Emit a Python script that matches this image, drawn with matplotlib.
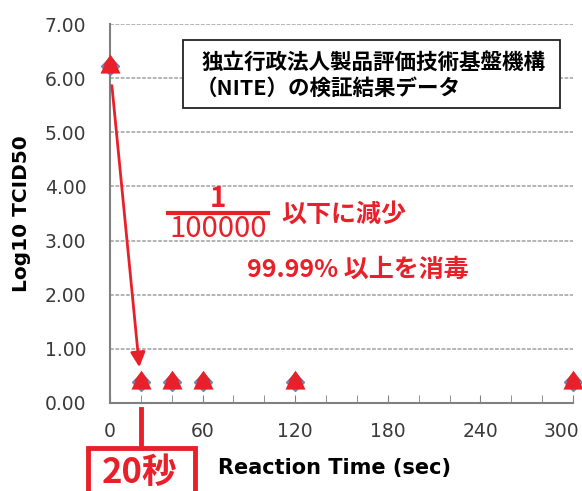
import matplotlib
matplotlib.use("Agg")
import matplotlib.pyplot as plt
import matplotlib.transforms as mtransforms
from matplotlib.patches import Rectangle
from matplotlib.lines import Line2D
from matplotlib.path import Path

# data
times = [0, 20, 40, 60, 120, 300]
log_tcid50 = [6.22, 0.38, 0.38, 0.38, 0.38, 0.38]
x_ticks = [0, 60, 120, 180, 240, 300]
y_ticks = [0, 1, 2, 3, 4, 5, 6, 7]

RED = '#e8202a'
W, H = 582, 491
CJK = ['Noto Sans CJK JP', 'DejaVu Sans']


def fx(px):
    return px / W


def fy(py):
    return 1 - py / H


fig = plt.figure(figsize=(W / 100, H / 100), dpi=100)
ax = fig.add_axes([fx(110), fy(403), fx(573) - fx(110), fy(24) - fy(403)])

ax.set_xlim(0, 300)
ax.set_ylim(0, 7)
ax.set_xticks(x_ticks)
ax.set_xticks(range(0, 301, 20), minor=True)
ax.set_yticks(y_ticks)
ax.set_yticklabels(['%.2f' % v for v in y_ticks])
ax.tick_params(axis='x', which='both', direction='in', length=6, color='#808080',
               pad=14, labelsize=13.5, labelcolor='#3a3a3a')
ax.tick_params(axis='y', length=0, pad=17, labelsize=13.5, labelcolor='#3a3a3a')
for s in ['top', 'right']:
    ax.spines[s].set_visible(False)
for s in ['left', 'bottom']:
    ax.spines[s].set_color('#808080')
    ax.spines[s].set_linewidth(1.5)
ax.grid(axis='y', linestyle=(0, (2.5, 1)), color='#a0a0a0', linewidth=1.1)
ax.set_axisbelow(True)

# last x label is pulled in so it fits inside the picture
last = ax.get_xticklabels()[-1]
last.set_transform(last.get_transform() +
                   mtransforms.ScaledTranslation(-0.12, 0, fig.dpi_scale_trans))

ax.set_ylabel('Log10 TCID50', fontsize=14.5, fontweight='bold', labelpad=10)
ax.set_xlabel('Reaction Time (sec)', fontsize=15, fontweight='bold')
ax.xaxis.set_label_coords(0.485, -0.145)

# stacked triangle marker
house = Path([(0, 1), (0.62, 0.12), (0.5, 0.12), (0.85, -0.6), (-0.85, -0.6),
              (-0.5, 0.12), (-0.62, 0.12), (0, 1)], closed=True)
ax.plot(times, log_tcid50, linestyle='none', marker='D', markersize=9,
        color='#6f86b8', clip_on=False, zorder=3)
ax.plot(times, log_tcid50, linestyle='none', marker=house, markersize=17,
        color=RED, markeredgewidth=0, clip_on=False, zorder=4)

# arrow from the first point down to the 20 s point
ax.annotate('', xy=(times[1], log_tcid50[1]), xytext=(times[0], log_tcid50[0]),
            textcoords='data',
            arrowprops=dict(arrowstyle='-|>', color=RED, lw=2, mutation_scale=22,
                            shrinkA=14, shrinkB=11))

# NITE box
fig.add_artist(Rectangle((fx(183), fy(108)), fx(560) - fx(183), fy(40) - fy(108),
                         fill=True, fc='white', ec='#222222', lw=1.3))
fig.text(fx(202), fy(62), '独立行政法人製品評価技術基盤機構',
         family=CJK, fontsize=15.5, fontweight='bold', ha='left', va='center')
fig.text(fx(196), fy(88), '（NITE）の検証結果データ',
         family=CJK, fontsize=15.5, fontweight='bold', ha='left', va='center')

# red reduction texts
fig.text(fx(218), fy(199), '1', family=CJK, fontsize=20, color=RED,
         ha='center', va='center', fontweight='bold')
fig.add_artist(Line2D([fx(168), fx(268)], [fy(213), fy(213)], color=RED, lw=3))
fig.text(fx(218), fy(229), '100000', family=CJK, fontsize=21, color=RED,
         ha='center', va='center')
fig.text(fx(281), fy(215), '以下に減少', family=CJK, fontsize=18, color=RED,
         ha='left', va='center', fontweight='bold')
fig.text(fx(247), fy(270), '99.99% 以上を消毒', family=CJK, fontsize=18, color=RED,
         ha='left', va='center', fontweight='bold')

# 20 sec callout
fig.add_artist(Line2D([fx(141), fx(141)], [fy(409), fy(448)], color=RED, lw=3.5))
fig.add_artist(Rectangle((fx(88), fy(500)), fx(195) - fx(88), fy(448) - fy(500),
                         fill=False, ec=RED, lw=3.5))
fig.text(fx(140), fy(472), '20秒', family=CJK, fontsize=25, color=RED,
         ha='center', va='center', fontweight='bold')

fig.savefig('out.png', dpi=100)
